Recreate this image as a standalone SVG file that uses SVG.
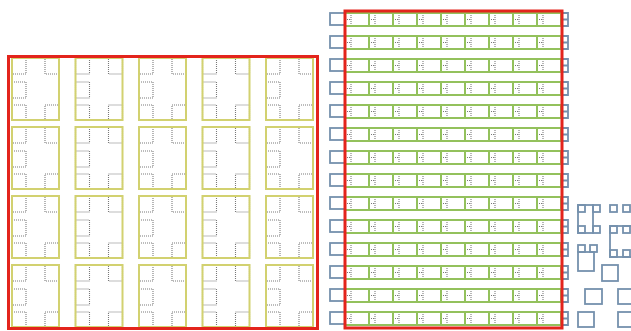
<svg xmlns="http://www.w3.org/2000/svg" xmlns:xlink="http://www.w3.org/1999/xlink" width="631" height="331" viewBox="0 0 631 331">
<style>
.red{fill:none;stroke:#e3241c;stroke-width:3}
.yel{fill:none;stroke:#d2d170;stroke-width:2}
.grn{fill:none;stroke:#93c15c;stroke-width:2}
.blu{fill:none;stroke:#7591ad;stroke-width:1.8}
.dot{fill:none;stroke:#7a7a7a;stroke-width:1.1;stroke-dasharray:1 1}
</style>
<defs>
<g id="ycell">
<rect class="dot" x="0" y="0" width="14" height="16"/>
<rect class="dot" x="33" y="0" width="14" height="16"/>
<rect class="dot" x="0" y="24" width="14" height="16"/>
<rect class="dot" x="0" y="47" width="14" height="15"/>
<rect class="dot" x="33" y="47" width="14" height="15"/>
<rect class="yel" x="0" y="0" width="47" height="62"/>
</g>
<g id="gcell">
<path class="dot" d="M6,0V13M0,6.5H6"/>
<rect class="grn" x="0" y="0" width="24" height="13"/>
</g>
<g id="row">
<rect class="blu" x="330" y="0" width="15" height="12"/>
<use xlink:href="#gcell" x="345"/>
<use xlink:href="#gcell" x="369"/>
<use xlink:href="#gcell" x="393"/>
<use xlink:href="#gcell" x="417"/>
<use xlink:href="#gcell" x="441"/>
<use xlink:href="#gcell" x="465"/>
<use xlink:href="#gcell" x="489"/>
<use xlink:href="#gcell" x="513"/>
<use xlink:href="#gcell" x="537"/>
<path class="blu" d="M562,0H568V13H562M562,6.5H568"/>
</g>
<g id="yrow">
<use xlink:href="#ycell" x="12"/>
<use xlink:href="#ycell" x="75.5"/>
<use xlink:href="#ycell" x="139"/>
<use xlink:href="#ycell" x="202.5"/>
<use xlink:href="#ycell" x="266"/>
</g>
</defs>
<g id="left-block">
<use xlink:href="#yrow" y="58"/>
<use xlink:href="#yrow" y="127"/>
<use xlink:href="#yrow" y="196"/>
<use xlink:href="#yrow" y="265"/>
<rect class="red" x="8.5" y="56.5" width="309" height="272"/>
</g>
<g id="right-block">
<use xlink:href="#row" y="13"/>
<use xlink:href="#row" y="36"/>
<use xlink:href="#row" y="59"/>
<use xlink:href="#row" y="82"/>
<use xlink:href="#row" y="105"/>
<use xlink:href="#row" y="128"/>
<use xlink:href="#row" y="151"/>
<use xlink:href="#row" y="174"/>
<use xlink:href="#row" y="197"/>
<use xlink:href="#row" y="220"/>
<use xlink:href="#row" y="243"/>
<use xlink:href="#row" y="266"/>
<use xlink:href="#row" y="289"/>
<use xlink:href="#row" y="312"/>
<rect class="red" x="345" y="11" width="217" height="317"/>
</g>
<g id="scatter">
<rect class="blu" x="578" y="205" width="7" height="7"/>
<rect class="blu" x="593" y="205" width="7" height="7"/>
<rect class="blu" x="578" y="205" width="15" height="28"/>
<rect class="blu" x="578" y="226" width="7" height="7"/>
<rect class="blu" x="593" y="226" width="7" height="7"/>
<rect class="blu" x="610" y="205" width="7" height="7"/>
<rect class="blu" x="623" y="205" width="7" height="7"/>
<rect class="blu" x="610" y="226" width="7" height="7"/>
<rect class="blu" x="623" y="226" width="7" height="7"/>
<rect class="blu" x="610" y="226" width="22" height="31"/>
<rect class="blu" x="610" y="250" width="7" height="7"/>
<rect class="blu" x="623" y="250" width="7" height="7"/>
<rect class="blu" x="578" y="245" width="7" height="7"/>
<rect class="blu" x="590" y="245" width="7" height="7"/>
<rect class="blu" x="578" y="252" width="16" height="19"/>
<rect class="blu" x="602" y="265" width="16" height="16"/>
<rect class="blu" x="585" y="289" width="17" height="15"/>
<rect class="blu" x="618" y="289" width="16" height="15"/>
<rect class="blu" x="578" y="312" width="16" height="15"/>
<rect class="blu" x="618" y="312" width="16" height="15"/>
</g>
</svg>
